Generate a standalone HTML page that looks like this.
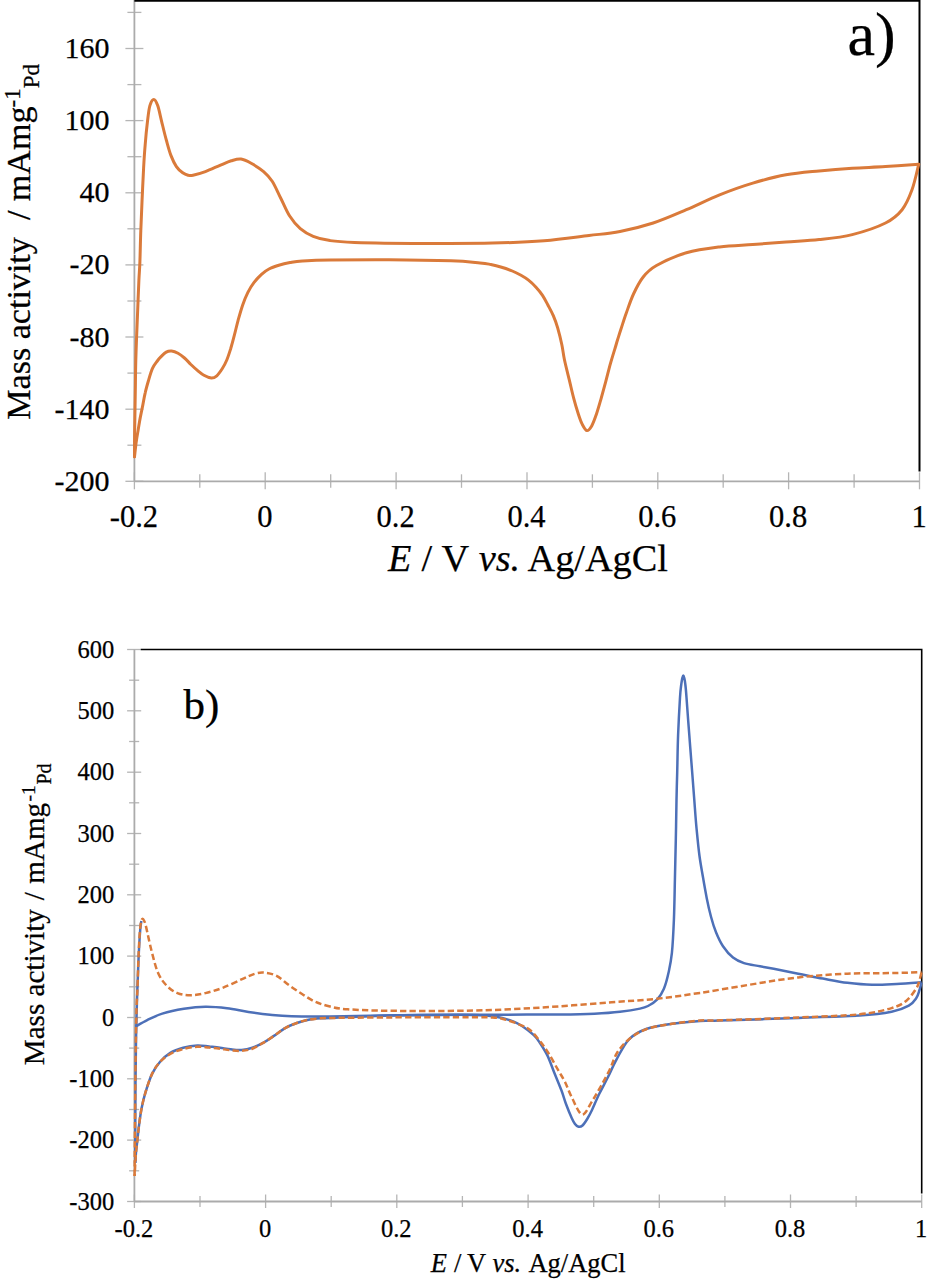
<!DOCTYPE html>
<html><head><meta charset="utf-8"><style>
html,body{margin:0;padding:0;background:#fff;width:928px;height:1280px;overflow:hidden;font-family:"Liberation Serif",serif;}
svg{display:block;}
</style></head><body>
<svg width="928" height="1280" viewBox="0 0 928 1280">
<rect width="928" height="1280" fill="#fff"/>
<g stroke="#B5B5B5" stroke-width="1.3" fill="none">
<line x1="125.4" y1="481.3" x2="143.4" y2="481.3"/>
<line x1="125.4" y1="409.2" x2="143.4" y2="409.2"/>
<line x1="125.4" y1="337.0" x2="143.4" y2="337.0"/>
<line x1="125.4" y1="264.9" x2="143.4" y2="264.9"/>
<line x1="125.4" y1="192.8" x2="143.4" y2="192.8"/>
<line x1="125.4" y1="120.6" x2="143.4" y2="120.6"/>
<line x1="125.4" y1="48.5" x2="143.4" y2="48.5"/>
<line x1="127.4" y1="445.2" x2="141.4" y2="445.2"/>
<line x1="127.4" y1="373.1" x2="141.4" y2="373.1"/>
<line x1="127.4" y1="301.0" x2="141.4" y2="301.0"/>
<line x1="127.4" y1="228.8" x2="141.4" y2="228.8"/>
<line x1="127.4" y1="156.7" x2="141.4" y2="156.7"/>
<line x1="127.4" y1="84.6" x2="141.4" y2="84.6"/>
<line x1="127.4" y1="12.4" x2="141.4" y2="12.4"/>
<line x1="134.4" y1="472.3" x2="134.4" y2="489.3"/>
<line x1="265.2" y1="472.3" x2="265.2" y2="489.3"/>
<line x1="396.1" y1="472.3" x2="396.1" y2="489.3"/>
<line x1="527.0" y1="472.3" x2="527.0" y2="489.3"/>
<line x1="657.8" y1="472.3" x2="657.8" y2="489.3"/>
<line x1="788.6" y1="472.3" x2="788.6" y2="489.3"/>
<line x1="919.5" y1="472.3" x2="919.5" y2="489.3"/>
<line x1="199.8" y1="474.3" x2="199.8" y2="487.8"/>
<line x1="330.7" y1="474.3" x2="330.7" y2="487.8"/>
<line x1="461.5" y1="474.3" x2="461.5" y2="487.8"/>
<line x1="592.4" y1="474.3" x2="592.4" y2="487.8"/>
<line x1="723.2" y1="474.3" x2="723.2" y2="487.8"/>
<line x1="854.1" y1="474.3" x2="854.1" y2="487.8"/>
</g>
<g stroke="#ABABAB" stroke-width="1.8" fill="none">
<line x1="134.4" y1="0.0" x2="134.4" y2="481.3"/>
<line x1="134.4" y1="481.3" x2="919.5" y2="481.3"/>
</g>
<path d="M134.4,0.8 H919.5 V471.5" stroke="#000" stroke-width="2" fill="none"/>
<g fill="none" stroke="#DA7A3A" stroke-width="3" stroke-linejoin="round" stroke-linecap="round">
<path d="M134.5,456.8 C134.5,453.0 134.5,441.7 134.6,433.8 C134.7,425.9 134.9,417.4 135.0,409.2 C135.1,401.0 135.3,392.8 135.4,384.6 C135.5,376.4 135.6,367.5 135.8,360.0 C136.0,352.5 136.2,347.8 136.5,339.4 C136.8,331.0 137.3,319.6 137.7,309.7 C138.1,299.8 138.5,288.0 138.9,280.0 C139.3,272.0 139.6,270.1 139.9,261.9 C140.2,253.7 140.4,241.0 140.8,230.6 C141.2,220.2 141.6,209.8 142.1,199.4 C142.6,189.0 143.1,177.2 143.6,168.1 C144.1,159.0 144.5,152.5 145.2,144.7 C145.8,136.9 146.7,127.8 147.5,121.3 C148.3,114.8 148.8,109.2 149.9,105.6 C151.0,101.9 152.5,99.4 153.8,99.4 C155.1,99.4 156.4,101.9 157.7,105.6 C159.0,109.2 160.2,115.6 161.6,121.3 C163.0,127.0 164.7,134.3 166.3,140.0 C167.9,145.7 169.3,151.2 171.0,155.6 C172.7,160.0 174.5,163.7 176.4,166.6 C178.3,169.5 180.8,171.4 182.7,172.8 C184.6,174.2 186.3,174.8 188.0,175.2 C189.7,175.6 190.1,175.8 193.0,175.2 C195.9,174.6 200.8,173.3 205.4,171.6 C210.0,169.9 216.2,166.9 220.5,165.1 C224.8,163.3 227.9,161.8 231.3,160.8 C234.7,159.8 237.8,158.7 241.0,159.1 C244.2,159.5 246.9,160.9 250.7,163.0 C254.5,165.1 260.0,168.5 263.6,171.6 C267.2,174.7 269.3,176.8 272.2,181.3 C275.1,185.8 278.0,192.8 280.9,198.5 C283.8,204.2 286.3,210.8 289.5,215.8 C292.7,220.8 296.4,225.3 300.3,228.7 C304.2,232.1 308.2,234.3 313.2,236.3 C318.1,238.3 323.1,239.6 330.0,240.6 C336.9,241.6 338.9,241.9 354.5,242.4 C370.1,242.9 400.4,243.3 423.4,243.4 C446.4,243.5 472.3,243.6 492.4,243.1 C512.5,242.6 528.0,242.0 544.1,240.7 C560.2,239.4 576.4,237.0 589.0,235.5 C601.6,234.0 609.3,233.6 620.0,231.5 C630.7,229.4 642.1,226.6 653.2,223.0 C664.3,219.4 675.3,214.4 686.4,209.7 C697.5,205.0 708.5,199.2 719.6,194.8 C730.7,190.4 741.7,186.4 752.8,183.1 C763.9,179.8 775.0,176.8 786.0,174.8 C797.0,172.8 808.1,172.0 819.1,170.9 C830.1,169.8 841.2,168.9 852.3,168.2 C863.4,167.5 874.4,167.3 885.5,166.6 C896.6,165.9 913.2,164.6 918.7,164.2"/>
<path d="M918.7,164.4 C917.6,168.6 914.8,182.2 912.0,189.8 C909.2,197.4 906.5,204.2 902.1,209.7 C897.7,215.2 893.8,218.8 885.5,223.0 C877.2,227.2 863.4,231.8 852.3,234.6 C841.2,237.4 830.1,238.4 819.1,239.6 C808.1,240.8 797.0,241.1 786.0,241.9 C775.0,242.7 763.9,243.7 752.8,244.5 C741.7,245.3 730.7,245.5 719.6,246.9 C708.5,248.3 696.9,249.7 686.4,252.8 C675.9,255.9 663.7,261.5 656.5,265.5 C649.3,269.5 647.0,272.2 643.2,277.0 C639.4,281.8 636.3,288.0 633.5,294.0 C630.7,300.0 628.4,307.2 626.3,313.0 C624.2,318.8 622.5,324.5 621.0,329.0 C619.5,333.5 618.5,336.9 617.5,340.0 C616.5,343.1 616.4,343.9 615.2,347.8 C614.0,351.7 612.1,357.8 610.5,363.4 C608.9,369.0 607.4,375.5 605.8,381.4 C604.2,387.3 602.7,393.1 601.1,398.6 C599.5,404.1 598.0,409.6 596.4,414.2 C594.8,418.8 593.3,423.2 591.7,425.9 C590.1,428.6 588.6,430.9 587.0,430.6 C585.4,430.4 583.7,427.1 582.3,424.4 C580.9,421.7 579.8,418.5 578.4,414.2 C577.0,409.9 575.3,404.5 573.8,398.6 C572.2,392.8 570.7,385.6 569.1,379.1 C567.5,372.6 565.6,365.2 564.4,359.5 C563.2,353.8 563.0,350.3 561.9,345.0 C560.8,339.7 559.0,332.5 557.6,327.6 C556.2,322.7 554.9,319.5 553.3,315.7 C551.7,311.9 549.7,308.4 547.9,305.0 C546.1,301.6 544.5,298.3 542.5,295.3 C540.5,292.3 538.3,289.7 536.0,287.2 C533.7,284.7 531.0,282.2 528.5,280.2 C526.0,278.2 523.7,276.8 521.0,275.3 C518.3,273.8 515.5,272.4 512.3,271.0 C509.1,269.6 505.2,268.3 501.6,267.2 C498.0,266.1 494.4,265.2 490.8,264.5 C487.2,263.8 486.6,263.5 480.0,262.9 C473.4,262.3 466.2,261.2 451.0,260.7 C435.8,260.2 409.2,259.8 389.0,259.7 C368.8,259.6 344.4,259.8 330.0,260.0 C315.6,260.2 309.1,260.6 302.4,261.0 C295.7,261.4 293.9,261.9 290.0,262.6 C286.1,263.3 282.3,264.2 278.8,265.3 C275.3,266.4 271.9,267.5 269.0,269.0 C266.1,270.5 264.0,272.0 261.5,274.3 C259.0,276.6 256.2,279.6 253.9,282.6 C251.6,285.6 249.8,288.6 247.9,292.4 C246.0,296.2 244.2,300.5 242.6,305.2 C241.0,309.9 239.5,315.3 238.1,320.3 C236.7,325.3 235.6,330.6 234.3,335.4 C233.1,340.2 231.8,344.9 230.6,349.0 C229.3,353.1 228.2,356.7 226.8,360.0 C225.4,363.3 223.9,366.2 222.2,368.8 C220.5,371.4 218.6,374.3 216.8,375.8 C215.0,377.3 213.6,378.1 211.4,378.0 C209.2,377.9 206.2,376.6 203.9,375.3 C201.6,374.0 199.6,372.2 197.4,370.4 C195.2,368.6 193.1,366.6 190.9,364.5 C188.8,362.4 186.7,359.9 184.5,358.0 C182.3,356.1 180.2,354.4 178.0,353.2 C175.8,352.0 173.6,351.2 171.6,351.0 C169.6,350.8 168.0,351.1 166.2,352.1 C164.4,353.1 162.3,355.4 160.8,356.9 C159.3,358.4 158.7,359.1 157.3,361.0 C155.9,362.9 154.1,364.9 152.6,368.2 C151.1,371.4 149.7,376.4 148.5,380.5 C147.3,384.6 146.1,388.7 145.2,392.8 C144.2,396.9 143.6,401.0 142.8,405.1 C142.0,409.2 141.1,413.3 140.3,417.4 C139.5,421.5 138.9,425.6 138.2,429.7 C137.5,433.8 136.8,437.5 136.2,442.0 C135.6,446.5 134.8,454.3 134.5,456.8"/>
</g>
<g stroke="#B5B5B5" stroke-width="1.3" fill="none">
<line x1="127.1" y1="1201.5" x2="141.2" y2="1201.5"/>
<line x1="127.1" y1="1140.1" x2="141.2" y2="1140.1"/>
<line x1="127.1" y1="1078.8" x2="141.2" y2="1078.8"/>
<line x1="127.1" y1="1017.5" x2="141.2" y2="1017.5"/>
<line x1="127.1" y1="956.1" x2="141.2" y2="956.1"/>
<line x1="127.1" y1="894.8" x2="141.2" y2="894.8"/>
<line x1="127.1" y1="833.5" x2="141.2" y2="833.5"/>
<line x1="127.1" y1="772.2" x2="141.2" y2="772.2"/>
<line x1="127.1" y1="710.8" x2="141.2" y2="710.8"/>
<line x1="127.1" y1="649.5" x2="141.2" y2="649.5"/>
<line x1="129.1" y1="1170.8" x2="139.2" y2="1170.8"/>
<line x1="129.1" y1="1109.5" x2="139.2" y2="1109.5"/>
<line x1="129.1" y1="1048.1" x2="139.2" y2="1048.1"/>
<line x1="129.1" y1="986.8" x2="139.2" y2="986.8"/>
<line x1="129.1" y1="925.5" x2="139.2" y2="925.5"/>
<line x1="129.1" y1="864.2" x2="139.2" y2="864.2"/>
<line x1="129.1" y1="802.8" x2="139.2" y2="802.8"/>
<line x1="129.1" y1="741.5" x2="139.2" y2="741.5"/>
<line x1="129.1" y1="680.2" x2="139.2" y2="680.2"/>
<line x1="134.4" y1="1194.5" x2="134.4" y2="1208.0"/>
<line x1="265.6" y1="1194.5" x2="265.6" y2="1208.0"/>
<line x1="396.8" y1="1194.5" x2="396.8" y2="1208.0"/>
<line x1="528.1" y1="1194.5" x2="528.1" y2="1208.0"/>
<line x1="659.3" y1="1194.5" x2="659.3" y2="1208.0"/>
<line x1="790.5" y1="1194.5" x2="790.5" y2="1208.0"/>
<line x1="921.7" y1="1194.5" x2="921.7" y2="1208.0"/>
<line x1="200.0" y1="1196.0" x2="200.0" y2="1207.0"/>
<line x1="331.2" y1="1196.0" x2="331.2" y2="1207.0"/>
<line x1="462.4" y1="1196.0" x2="462.4" y2="1207.0"/>
<line x1="593.7" y1="1196.0" x2="593.7" y2="1207.0"/>
<line x1="724.9" y1="1196.0" x2="724.9" y2="1207.0"/>
<line x1="856.1" y1="1196.0" x2="856.1" y2="1207.0"/>
</g>
<g stroke="#ABABAB" stroke-width="1.8" fill="none">
<line x1="134.4" y1="649.5" x2="134.4" y2="1201.5"/>
<line x1="134.4" y1="1201.5" x2="921.7" y2="1201.5"/>
</g>
<path d="M140.8,649.5 H921.7 V1193.4" stroke="#000" stroke-width="1.6" fill="none"/>
<g fill="none" stroke-linejoin="round" stroke-linecap="butt">
<path d="M135.4,1026.6 C137.4,1025.5 142.7,1022.3 147.2,1020.1 C151.7,1017.9 156.2,1015.5 162.3,1013.6 C168.4,1011.7 176.7,1009.9 183.9,1008.7 C191.1,1007.6 198.2,1006.8 205.4,1006.7 C212.6,1006.6 219.8,1007.3 227.0,1008.2 C234.2,1009.1 241.3,1010.8 248.5,1011.9 C255.7,1013.0 262.9,1014.0 270.1,1014.7 C277.3,1015.4 281.6,1015.9 291.6,1016.2 C301.6,1016.5 308.0,1016.6 330.0,1016.4 C352.0,1016.2 390.6,1015.3 423.4,1015.0 C456.2,1014.7 504.1,1014.7 526.9,1014.6 C549.7,1014.5 548.7,1014.7 560.0,1014.6 C571.3,1014.5 584.5,1014.3 594.5,1013.8 C604.5,1013.3 612.4,1012.7 620.0,1011.8 C627.6,1010.9 635.3,1009.6 640.0,1008.6 C644.7,1007.6 645.1,1007.5 648.0,1006.0 C650.9,1004.5 654.6,1002.3 657.3,999.4 C659.9,996.5 662.0,993.1 663.9,988.7 C665.8,984.3 667.2,978.8 668.5,972.8 C669.8,966.8 671.0,961.8 671.9,952.9 C672.8,944.0 673.4,931.9 673.9,919.7 C674.4,907.5 674.6,893.1 674.9,879.8 C675.2,866.5 675.5,853.3 675.8,840.0 C676.1,826.7 676.3,811.2 676.5,800.0 C676.7,788.8 676.9,783.3 677.2,772.5 C677.5,761.7 677.6,747.5 678.1,735.0 C678.6,722.5 679.5,705.8 680.0,697.5 C680.5,689.2 680.8,688.2 681.2,685.0 C681.6,681.8 681.9,680.1 682.2,678.5 C682.6,676.9 682.9,675.5 683.3,675.5 C683.7,675.5 684.0,676.9 684.4,678.5 C684.8,680.1 685.0,681.8 685.4,685.0 C685.8,688.2 685.9,689.2 686.5,697.5 C687.1,705.8 688.3,722.5 689.3,735.0 C690.2,747.5 691.4,761.7 692.2,772.5 C693.0,783.3 693.6,790.8 694.3,800.0 C695.0,809.2 695.6,818.7 696.5,828.0 C697.4,837.3 698.4,847.8 699.5,856.0 C700.6,864.2 701.8,870.2 703.0,877.3 C704.2,884.4 705.5,891.8 706.8,898.4 C708.1,905.0 709.5,911.1 711.0,916.7 C712.5,922.3 714.0,927.3 716.0,932.2 C718.0,937.1 720.2,942.0 723.0,946.2 C725.8,950.4 729.5,954.7 733.0,957.5 C736.5,960.3 739.5,961.6 744.0,963.1 C748.5,964.6 755.0,965.3 760.0,966.3 C765.0,967.2 767.3,967.6 773.7,968.8 C780.1,970.0 790.1,972.1 798.3,973.7 C806.5,975.3 814.7,977.1 822.9,978.6 C831.1,980.1 839.2,981.8 847.4,982.8 C855.6,983.8 863.8,984.6 872.0,984.8 C880.2,985.0 888.4,984.4 896.6,984.0 C904.9,983.6 917.4,982.6 921.5,982.3" stroke="#4D70B8" stroke-width="2.5"/>
<path d="M921.5,982.5 C921.2,983.8 920.4,987.4 919.5,990.0 C918.6,992.6 918.0,995.7 916.2,998.3 C914.4,1000.9 912.9,1003.5 908.8,1005.7 C904.7,1008.0 899.8,1010.2 891.6,1011.8 C883.4,1013.4 875.2,1014.5 859.7,1015.5 C844.2,1016.5 821.6,1017.0 798.3,1017.9 C775.0,1018.8 736.4,1020.1 720.0,1020.6 C703.6,1021.1 708.0,1020.5 700.0,1021.0 C692.0,1021.5 681.1,1022.5 672.1,1023.8 C663.1,1025.1 653.4,1026.4 646.2,1029.0 C639.0,1031.6 633.9,1034.2 629.0,1039.3 C624.1,1044.3 620.1,1053.0 616.6,1059.3 C613.1,1065.6 610.9,1071.2 608.0,1077.0 C605.1,1082.8 602.0,1088.3 599.3,1093.8 C596.6,1099.3 594.0,1105.8 592.0,1110.0 C590.0,1114.2 588.8,1116.4 587.2,1119.0 C585.6,1121.6 583.9,1124.2 582.5,1125.5 C581.1,1126.8 579.9,1127.0 578.6,1126.8 C577.4,1126.5 576.1,1125.5 575.0,1124.0 C573.9,1122.5 573.2,1121.2 571.7,1117.9 C570.2,1114.6 567.7,1108.6 566.0,1104.0 C564.3,1099.4 563.4,1095.6 561.4,1090.3 C559.4,1085.0 556.3,1077.7 554.0,1072.0 C551.7,1066.3 549.9,1060.7 547.6,1055.9 C545.3,1051.1 542.3,1046.5 540.0,1043.0 C537.7,1039.5 536.8,1038.0 533.8,1035.2 C530.8,1032.4 525.5,1028.3 522.0,1026.0 C518.5,1023.7 516.8,1022.8 513.1,1021.4 C509.4,1020.0 504.6,1018.5 500.0,1017.5 C495.4,1016.5 492.5,1016.0 485.5,1015.5 C478.5,1015.0 474.0,1014.8 457.9,1014.8 C441.8,1014.8 410.3,1015.0 389.0,1015.5 C367.7,1016.0 342.0,1017.5 330.0,1018.0 C318.0,1018.5 321.0,1018.2 317.0,1018.6 C313.0,1019.0 309.8,1019.4 306.2,1020.2 C302.6,1021.0 299.0,1022.1 295.4,1023.5 C291.8,1024.8 288.3,1026.2 284.7,1028.3 C281.1,1030.4 277.5,1033.5 273.9,1035.9 C270.3,1038.3 266.7,1040.9 263.1,1042.9 C259.5,1044.9 255.9,1046.5 252.3,1047.7 C248.7,1048.9 245.2,1049.6 241.6,1049.9 C238.0,1050.2 234.4,1049.7 230.8,1049.3 C227.2,1048.9 223.6,1048.2 220.0,1047.7 C216.4,1047.2 212.8,1046.9 209.0,1046.5 C205.2,1046.1 201.7,1045.2 197.4,1045.4 C193.1,1045.6 187.7,1046.5 183.2,1047.8 C178.7,1049.0 174.2,1050.5 170.3,1052.9 C166.4,1055.3 162.9,1058.5 159.9,1062.0 C156.9,1065.5 154.6,1068.6 152.2,1073.6 C149.8,1078.5 147.4,1086.1 145.7,1091.7 C144.0,1097.3 142.9,1101.8 141.8,1107.2 C140.7,1112.6 139.9,1118.5 139.2,1124.1 C138.4,1129.7 137.8,1136.2 137.3,1140.9 C136.8,1145.6 136.3,1148.8 136.0,1152.5 C135.7,1156.2 135.3,1161.2 135.2,1163.0" stroke="#4D70B8" stroke-width="2.5"/>
<path d="M135.2,1163.0 C135.2,1152.5 135.3,1120.5 135.4,1100.0 C135.5,1079.5 135.7,1056.7 136.0,1040.0 C136.3,1023.3 136.6,1013.3 137.0,1000.0 C137.4,986.7 138.0,971.7 138.5,960.0 C139.0,948.3 139.7,936.5 140.2,930.0 C140.7,923.5 141.2,922.5 141.4,921.0" stroke="#4D70B8" stroke-width="2.5"/>
<path d="M134.6,1176.0 C134.7,1166.7 134.8,1139.3 135.0,1120.0 C135.2,1100.7 135.3,1078.3 135.6,1060.0 C135.8,1041.7 136.2,1022.0 136.5,1010.0 C136.8,998.0 137.2,997.0 137.5,987.8 C137.8,978.6 138.2,964.0 138.6,955.0 C139.0,946.0 139.3,939.4 139.7,933.9 C140.1,928.4 140.5,924.5 141.0,922.0 C141.5,919.5 142.0,919.0 142.5,918.8 C143.0,918.6 143.6,919.6 144.2,921.0 C144.8,922.4 145.0,922.4 146.2,927.4 C147.4,932.4 149.6,943.5 151.6,951.1 C153.6,958.7 155.5,967.0 158.0,972.7 C160.5,978.5 163.4,982.2 166.6,985.6 C169.8,989.0 173.4,991.5 177.4,993.1 C181.4,994.7 185.6,995.3 190.3,995.3 C195.0,995.3 200.0,994.4 205.4,993.1 C210.8,991.9 216.6,990.1 222.7,987.8 C228.8,985.5 236.7,981.5 242.1,979.1 C247.5,976.8 251.2,974.8 255.0,973.7 C258.8,972.6 261.1,972.3 264.7,972.7 C268.3,973.1 272.5,973.8 276.6,975.9 C280.7,978.0 285.2,982.5 289.5,985.6 C293.8,988.7 298.1,991.5 302.4,994.2 C306.7,996.9 310.7,999.8 315.3,1001.8 C319.9,1003.8 324.6,1005.2 330.0,1006.5 C335.4,1007.8 337.8,1008.6 347.6,1009.3 C357.4,1010.0 370.6,1010.5 389.0,1010.8 C407.4,1011.0 437.8,1011.0 457.9,1010.8 C478.0,1010.5 492.4,1010.1 509.7,1009.3 C527.0,1008.5 544.4,1007.4 561.4,1006.2 C578.4,1005.0 595.8,1003.4 611.7,1002.2 C627.6,1001.0 641.9,1000.3 656.6,998.8 C671.3,997.2 684.6,995.2 700.0,992.9 C715.4,990.6 732.7,987.4 749.1,984.8 C765.5,982.2 781.9,979.2 798.3,977.4 C814.7,975.5 831.0,974.4 847.4,973.7 C863.8,973.0 884.2,973.3 896.6,973.0 C909.0,972.7 917.4,972.2 921.5,972.0" stroke="#DA7A3A" stroke-width="2.5" stroke-dasharray="6.3 3.2"/>
<path d="M921.5,972.5 C921.1,974.1 919.9,979.3 919.0,982.0 C918.1,984.7 918.3,985.4 916.2,988.5 C914.1,991.6 910.5,997.4 906.4,1000.7 C902.3,1004.0 899.4,1005.8 891.6,1008.1 C883.8,1010.4 875.2,1012.7 859.7,1014.3 C844.2,1015.9 821.6,1016.5 798.3,1017.5 C775.0,1018.5 736.4,1019.8 720.0,1020.3 C703.6,1020.8 708.0,1020.0 700.0,1020.6 C692.0,1021.2 681.1,1022.4 672.1,1023.8 C663.1,1025.2 653.4,1026.6 646.2,1029.2 C639.0,1031.8 633.9,1035.3 629.0,1039.3 C624.1,1043.3 620.2,1047.9 617.0,1053.0 C613.8,1058.1 612.4,1064.2 609.7,1069.7 C607.0,1075.2 603.9,1080.8 601.0,1086.0 C598.1,1091.2 595.5,1096.0 592.4,1100.7 C589.2,1105.5 585.5,1115.1 582.1,1114.5 C578.7,1113.9 574.6,1102.6 571.7,1097.2 C568.9,1091.8 567.3,1086.6 565.0,1082.0 C562.7,1077.4 560.6,1074.4 557.9,1069.7 C555.2,1065.0 551.9,1058.6 549.0,1054.0 C546.1,1049.4 543.9,1046.1 540.7,1042.1 C537.5,1038.1 533.5,1032.9 530.0,1030.0 C526.5,1027.1 524.2,1026.5 520.0,1024.8 C515.8,1023.0 509.6,1020.7 505.0,1019.5 C500.4,1018.3 500.2,1017.9 492.4,1017.5 C484.5,1017.1 475.1,1017.2 457.9,1017.2 C440.7,1017.2 410.3,1017.3 389.0,1017.4 C367.7,1017.5 342.0,1017.8 330.0,1018.0 C318.0,1018.2 321.0,1018.2 317.0,1018.6 C313.0,1019.0 309.8,1019.4 306.2,1020.2 C302.6,1021.0 299.0,1022.1 295.4,1023.5 C291.8,1024.8 288.3,1026.2 284.7,1028.3 C281.1,1030.4 277.5,1033.5 273.9,1035.9 C270.3,1038.3 266.7,1040.8 263.1,1042.9 C259.5,1045.0 255.9,1047.4 252.3,1048.7 C248.7,1050.0 245.2,1050.6 241.6,1050.9 C238.0,1051.2 234.4,1050.7 230.8,1050.3 C227.2,1049.9 223.6,1049.2 220.0,1048.7 C216.4,1048.2 212.8,1047.8 209.0,1047.5 C205.2,1047.2 201.7,1046.5 197.4,1046.7 C193.1,1047.0 187.7,1047.8 183.2,1049.0 C178.7,1050.2 174.2,1051.8 170.3,1054.0 C166.4,1056.2 162.9,1058.7 159.9,1062.0 C156.9,1065.3 154.6,1068.6 152.2,1073.6 C149.8,1078.5 147.4,1086.1 145.7,1091.7 C144.0,1097.3 142.9,1101.8 141.8,1107.2 C140.7,1112.6 139.9,1118.5 139.2,1124.1 C138.4,1129.7 137.8,1136.2 137.3,1140.9 C136.8,1145.6 136.3,1148.5 136.0,1152.5 C135.7,1156.5 135.4,1161.1 135.2,1165.0 C135.0,1168.9 134.8,1174.2 134.7,1176.0" stroke="#DA7A3A" stroke-width="2.5" stroke-dasharray="6.3 3.2"/>
</g>
<text x="109.5" y="58.0" font-size="30" text-anchor="end" font-family="Liberation Serif, serif" fill="#000" stroke="#000" stroke-width="0.25">160</text>
<text x="109.5" y="130.1" font-size="30" text-anchor="end" font-family="Liberation Serif, serif" fill="#000" stroke="#000" stroke-width="0.25">100</text>
<text x="109.5" y="202.3" font-size="30" text-anchor="end" font-family="Liberation Serif, serif" fill="#000" stroke="#000" stroke-width="0.25">40</text>
<text x="109.5" y="274.4" font-size="30" text-anchor="end" font-family="Liberation Serif, serif" fill="#000" stroke="#000" stroke-width="0.25">-20</text>
<text x="109.5" y="346.5" font-size="30" text-anchor="end" font-family="Liberation Serif, serif" fill="#000" stroke="#000" stroke-width="0.25">-80</text>
<text x="109.5" y="418.7" font-size="30" text-anchor="end" font-family="Liberation Serif, serif" fill="#000" stroke="#000" stroke-width="0.25">-140</text>
<text x="109.5" y="490.8" font-size="30" text-anchor="end" font-family="Liberation Serif, serif" fill="#000" stroke="#000" stroke-width="0.25">-200</text>
<text x="133.9" y="526.5" font-size="30.5" text-anchor="middle" font-family="Liberation Serif, serif" fill="#000" stroke="#000" stroke-width="0.25">-0.2</text>
<text x="264.8" y="526.5" font-size="30.5" text-anchor="middle" font-family="Liberation Serif, serif" fill="#000" stroke="#000" stroke-width="0.25">0</text>
<text x="395.6" y="526.5" font-size="30.5" text-anchor="middle" font-family="Liberation Serif, serif" fill="#000" stroke="#000" stroke-width="0.25">0.2</text>
<text x="526.5" y="526.5" font-size="30.5" text-anchor="middle" font-family="Liberation Serif, serif" fill="#000" stroke="#000" stroke-width="0.25">0.4</text>
<text x="657.3" y="526.5" font-size="30.5" text-anchor="middle" font-family="Liberation Serif, serif" fill="#000" stroke="#000" stroke-width="0.25">0.6</text>
<text x="788.1" y="526.5" font-size="30.5" text-anchor="middle" font-family="Liberation Serif, serif" fill="#000" stroke="#000" stroke-width="0.25">0.8</text>
<text x="919.0" y="526.5" font-size="30.5" text-anchor="middle" font-family="Liberation Serif, serif" fill="#000" stroke="#000" stroke-width="0.25">1</text>
<text x="388.1" y="570.5" font-size="38.3" font-style="italic" font-family="Liberation Serif, serif" fill="#000" stroke="#000" stroke-width="0.25">E</text>
<text x="421.5" y="570.5" font-size="38.3" font-family="Liberation Serif, serif" fill="#000" stroke="#000" stroke-width="0.25">/</text>
<text x="441.5" y="570.5" font-size="38.3" font-family="Liberation Serif, serif" fill="#000" stroke="#000" stroke-width="0.25">V</text>
<text x="478.7" y="570.5" font-size="38.3" font-style="italic" font-family="Liberation Serif, serif" fill="#000" stroke="#000" stroke-width="0.25">vs.</text>
<text x="527.5" y="570.5" font-size="38.3" font-family="Liberation Serif, serif" fill="#000" stroke="#000" stroke-width="0.25">Ag/AgCl</text>
<g transform="rotate(-90)">
<text x="-419.8" y="29.8" font-size="34.1" font-family="Liberation Serif, serif" fill="#000" stroke="#000" stroke-width="0.25">Mass activity</text>
<text x="-220.0" y="29.8" font-size="34.1" font-family="Liberation Serif, serif" fill="#000" stroke="#000" stroke-width="0.25">/</text>
<text x="-201.2" y="29.8" font-size="34.1" font-family="Liberation Serif, serif" fill="#000" stroke="#000" stroke-width="0.25">mAmg</text>
<text x="-107.4" y="20.3" font-size="22.8" font-family="Liberation Serif, serif" fill="#000" stroke="#000" stroke-width="0.25">-1</text>
<text x="-88.3" y="38.6" font-size="23" font-family="Liberation Serif, serif" fill="#000" stroke="#000" stroke-width="0.25">Pd</text>
</g>
<text x="847.4" y="54.5" font-size="62" font-family="Liberation Serif, serif" fill="#000" stroke="#000" stroke-width="0.25">a)</text>
<text x="114.2" y="657.7" font-size="24.5" text-anchor="end" font-family="Liberation Serif, serif" fill="#000" stroke="#000" stroke-width="0.25">600</text>
<text x="114.2" y="719.0" font-size="24.5" text-anchor="end" font-family="Liberation Serif, serif" fill="#000" stroke="#000" stroke-width="0.25">500</text>
<text x="114.2" y="780.4" font-size="24.5" text-anchor="end" font-family="Liberation Serif, serif" fill="#000" stroke="#000" stroke-width="0.25">400</text>
<text x="114.2" y="841.7" font-size="24.5" text-anchor="end" font-family="Liberation Serif, serif" fill="#000" stroke="#000" stroke-width="0.25">300</text>
<text x="114.2" y="903.0" font-size="24.5" text-anchor="end" font-family="Liberation Serif, serif" fill="#000" stroke="#000" stroke-width="0.25">200</text>
<text x="114.2" y="964.4" font-size="24.5" text-anchor="end" font-family="Liberation Serif, serif" fill="#000" stroke="#000" stroke-width="0.25">100</text>
<text x="114.2" y="1025.7" font-size="24.5" text-anchor="end" font-family="Liberation Serif, serif" fill="#000" stroke="#000" stroke-width="0.25">0</text>
<text x="114.2" y="1087.0" font-size="24.5" text-anchor="end" font-family="Liberation Serif, serif" fill="#000" stroke="#000" stroke-width="0.25">-100</text>
<text x="114.2" y="1148.3" font-size="24.5" text-anchor="end" font-family="Liberation Serif, serif" fill="#000" stroke="#000" stroke-width="0.25">-200</text>
<text x="114.2" y="1209.7" font-size="24.5" text-anchor="end" font-family="Liberation Serif, serif" fill="#000" stroke="#000" stroke-width="0.25">-300</text>
<text x="133.9" y="1237.0" font-size="24.5" text-anchor="middle" font-family="Liberation Serif, serif" fill="#000" stroke="#000" stroke-width="0.25">-0.2</text>
<text x="265.1" y="1237.0" font-size="24.5" text-anchor="middle" font-family="Liberation Serif, serif" fill="#000" stroke="#000" stroke-width="0.25">0</text>
<text x="396.3" y="1237.0" font-size="24.5" text-anchor="middle" font-family="Liberation Serif, serif" fill="#000" stroke="#000" stroke-width="0.25">0.2</text>
<text x="527.6" y="1237.0" font-size="24.5" text-anchor="middle" font-family="Liberation Serif, serif" fill="#000" stroke="#000" stroke-width="0.25">0.4</text>
<text x="658.8" y="1237.0" font-size="24.5" text-anchor="middle" font-family="Liberation Serif, serif" fill="#000" stroke="#000" stroke-width="0.25">0.6</text>
<text x="790.0" y="1237.0" font-size="24.5" text-anchor="middle" font-family="Liberation Serif, serif" fill="#000" stroke="#000" stroke-width="0.25">0.8</text>
<text x="921.2" y="1237.0" font-size="24.5" text-anchor="middle" font-family="Liberation Serif, serif" fill="#000" stroke="#000" stroke-width="0.25">1</text>
<text x="430.8" y="1271.8" font-size="26.5" font-style="italic" font-family="Liberation Serif, serif" fill="#000" stroke="#000" stroke-width="0.25">E</text>
<text x="454.1" y="1271.8" font-size="26.5" font-family="Liberation Serif, serif" fill="#000" stroke="#000" stroke-width="0.25">/</text>
<text x="467.0" y="1271.8" font-size="26.5" font-family="Liberation Serif, serif" fill="#000" stroke="#000" stroke-width="0.25">V</text>
<text x="492.5" y="1271.8" font-size="26.5" font-style="italic" font-family="Liberation Serif, serif" fill="#000" stroke="#000" stroke-width="0.25">vs.</text>
<text x="528.4" y="1271.8" font-size="26.5" font-family="Liberation Serif, serif" fill="#000" stroke="#000" stroke-width="0.25">Ag/AgCl</text>
<g transform="rotate(-90)">
<text x="-1065.2" y="44.3" font-size="29.1" font-family="Liberation Serif, serif" fill="#000" stroke="#000" stroke-width="0.25">Mass activity</text>
<text x="-900.3" y="44.3" font-size="29.1" font-family="Liberation Serif, serif" fill="#000" stroke="#000" stroke-width="0.25">/</text>
<text x="-883.7" y="44.3" font-size="29.1" font-family="Liberation Serif, serif" fill="#000" stroke="#000" stroke-width="0.25">mAmg</text>
<text x="-801.6" y="34.9" font-size="19.5" font-family="Liberation Serif, serif" fill="#000" stroke="#000" stroke-width="0.25">-1</text>
<text x="-784.6" y="51.2" font-size="20" font-family="Liberation Serif, serif" fill="#000" stroke="#000" stroke-width="0.25">Pd</text>
</g>
<text x="183.5" y="719.0" font-size="43" font-family="Liberation Serif, serif" fill="#000" stroke="#000" stroke-width="0.25">b)</text>
</svg>
</body></html>
